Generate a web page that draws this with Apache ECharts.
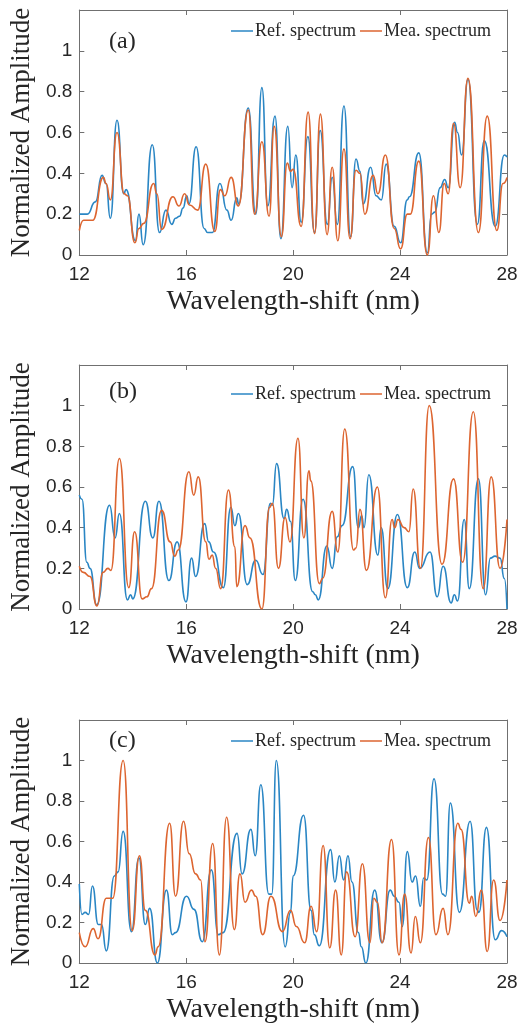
<!DOCTYPE html>
<html><head><meta charset="utf-8">
<script src="https://cdn.jsdelivr.net/npm/echarts@6/dist/echarts.min.js"></script>
<style>html,body{margin:0;padding:0;background:#fff}#c{width:532px;height:1030px}</style>
</head><body><div id="c"></div>
<script>
const xTicks = [12, 16, 20, 24, 28];
const seriesNames = ['Ref. spectrum', 'Mea. spectrum'];
const panelLabels = ['(a)', '(b)', '(c)'];
const xTitle = 'Wavelength-shift (nm)';
const yTitle = 'Normalized Amplitude';

const refA = [[12,0.2],[12.3,0.2],[12.6,0.26],[12.85,0.39],[13.0,0.35],[13.16,0.18],[13.41,0.66],[13.66,0.30],[13.75,0.32],[14.1,0.07],[14.23,0.2],[14.39,0.05],[14.73,0.54],[15.0,0.11],[15.24,0.22],[15.46,0.15],[15.6,0.18],[15.75,0.19],[15.88,0.23],[16.02,0.29],[16.1,0.25],[16.37,0.53],[16.67,0.13],[16.8,0.11],[16.98,0.11],[17.26,0.35],[17.52,0.22],[17.68,0.17],[17.89,0.28],[17.96,0.25],[18.32,0.72],[18.6,0.2],[18.83,0.82],[19.05,0.24],[19.32,0.68],[19.54,0.08],[19.8,0.63],[19.96,0.33],[20.1,0.49],[20.3,0.16],[20.55,0.58],[20.8,0.11],[21.01,0.61],[21.28,0.15],[21.46,0.38],[21.65,0.15],[21.9,0.73],[22.15,0.09],[22.35,0.47],[22.5,0.41],[22.62,0.25],[22.9,0.43],[23.1,0.29],[23.3,0.27],[23.48,0.445],[23.78,0.14],[24.02,0.06],[24.27,0.27],[24.35,0.285],[24.7,0.50],[25.02,0.01],[25.18,0.2],[25.3,0.21],[25.5,0.33],[25.67,0.37],[25.8,0.33],[26.04,0.65],[26.15,0.6],[26.3,0.49],[26.54,0.86],[26.89,0.15],[27.15,0.56],[27.56,0.14],[27.9,0.49],[28,0.48]];
const meaA = [[12,0.12],[12.16,0.17],[12.5,0.17],[12.9,0.38],[13.0,0.35],[13.16,0.27],[13.41,0.6],[13.68,0.30],[13.8,0.29],[14.08,0.06],[14.23,0.13],[14.41,0.155],[14.78,0.35],[14.9,0.30],[15.08,0.125],[15.5,0.285],[15.73,0.24],[15.94,0.30],[16.12,0.245],[16.43,0.22],[16.73,0.445],[17.07,0.115],[17.28,0.32],[17.44,0.29],[17.68,0.38],[17.95,0.24],[18.32,0.71],[18.56,0.2],[18.83,0.555],[19.1,0.19],[19.29,0.63],[19.56,0.09],[19.78,0.45],[19.9,0.41],[20.0,0.42],[20.3,0.14],[20.56,0.70],[20.8,0.105],[21.02,0.69],[21.27,0.1],[21.46,0.43],[21.67,0.07],[21.9,0.52],[22.13,0.08],[22.35,0.415],[22.5,0.40],[22.68,0.2],[22.99,0.39],[23.17,0.30],[23.45,0.49],[23.78,0.13],[24.02,0.03],[24.27,0.2],[24.38,0.2],[24.7,0.46],[25.02,0.0],[25.25,0.29],[25.45,0.11],[25.65,0.35],[25.8,0.30],[26.0,0.645],[26.25,0.33],[26.54,0.865],[26.93,0.11],[27.26,0.68],[27.62,0.12],[27.85,0.35],[28,0.38]];

const refB = [[12,0.56],[12.1,0.54],[12.28,0.23],[12.4,0.2],[12.65,0.02],[13.13,0.51],[13.34,0.35],[13.5,0.47],[13.8,0.045],[13.92,0.07],[14.0,0.05],[14.47,0.53],[14.75,0.35],[14.98,0.53],[15.35,0.14],[15.66,0.33],[15.99,0.035],[16.2,0.25],[16.35,0.16],[16.69,0.42],[16.84,0.33],[17.02,0.28],[17.39,0.105],[17.67,0.5],[17.82,0.41],[17.95,0.47],[18.28,0.12],[18.6,0.24],[18.87,0.17],[19.15,0.52],[19.22,0.51],[19.38,0.715],[19.66,0.445],[19.76,0.49],[19.9,0.43],[20.08,0.14],[20.37,0.54],[20.73,0.085],[20.83,0.07],[20.94,0.045],[21.26,0.31],[21.46,0.2],[21.65,0.355],[21.83,0.41],[22.23,0.7],[22.44,0.4],[22.56,0.46],[22.65,0.4],[22.83,0.66],[23.17,0.265],[23.29,0.4],[23.54,0.1],[23.9,0.465],[24.27,0.105],[24.55,0.28],[24.73,0.2],[25.12,0.28],[25.39,0.06],[25.61,0.21],[25.91,0.03],[26.03,0.07],[26.15,0.04],[26.4,0.44],[26.59,0.1],[26.93,0.64],[27.2,0.07],[27.38,0.25],[27.55,0.26],[27.74,0.25],[27.9,0.15],[28,0.0]];
const meaB = [[12,0.21],[12.15,0.18],[12.4,0.16],[12.66,0.015],[12.89,0.18],[13.07,0.2],[13.18,0.19],[13.5,0.74],[13.85,0.105],[14.07,0.38],[14.35,0.05],[14.53,0.06],[14.7,0.1],[15.08,0.485],[15.4,0.33],[15.57,0.26],[15.7,0.29],[16.1,0.675],[16.28,0.56],[16.45,0.65],[16.73,0.33],[16.85,0.245],[16.97,0.265],[17.1,0.2],[17.29,0.1],[17.58,0.585],[17.82,0.305],[17.89,0.11],[18.2,0.41],[18.38,0.35],[18.83,0.0],[19.12,0.5],[19.22,0.52],[19.45,0.2],[19.7,0.45],[19.88,0.33],[20.18,0.84],[20.4,0.35],[20.59,0.68],[20.66,0.63],[20.98,0.125],[21.1,0.15],[21.46,0.48],[21.67,0.28],[21.93,0.885],[22.26,0.29],[22.35,0.3],[22.5,0.49],[22.74,0.19],[23.15,0.6],[23.45,0.055],[23.7,0.44],[23.8,0.4],[23.92,0.44],[24.15,0.40],[24.33,0.38],[24.49,0.59],[24.76,0.2],[25.09,1.0],[25.57,0.22],[26.0,0.64],[26.34,0.23],[26.74,0.97],[27.11,0.1],[27.41,0.65],[27.74,0.2],[28,0.44]];

const refC = [[12,0.39],[12.1,0.24],[12.22,0.25],[12.35,0.24],[12.49,0.38],[12.71,0.19],[12.83,0.19],[13.01,0.06],[13.31,0.43],[13.45,0.45],[13.64,0.65],[13.95,0.155],[14.23,0.52],[14.47,0.19],[14.63,0.27],[14.92,0.0],[15.26,0.36],[15.48,0.14],[15.6,0.15],[16.01,0.33],[16.29,0.265],[16.6,0.105],[16.94,0.46],[17.2,0.14],[17.38,0.15],[17.9,0.64],[18.09,0.44],[18.42,0.66],[18.58,0.53],[18.79,0.88],[19.09,0.34],[19.2,0.34],[19.37,1.0],[19.7,0.08],[19.9,0.25],[20.0,0.43],[20.39,0.73],[20.67,0.26],[20.79,0.14],[20.98,0.085],[21.4,0.56],[21.56,0.4],[21.73,0.53],[21.89,0.41],[22.05,0.53],[22.2,0.4],[22.44,0.15],[22.55,0.08],[22.72,0.0],[23.05,0.36],[23.32,0.1],[23.63,0.36],[23.78,0.33],[23.96,0.30],[24.08,0.18],[24.27,0.55],[24.45,0.4],[24.58,0.43],[24.76,0.28],[24.88,0.42],[25.0,0.41],[25.27,0.91],[25.59,0.34],[25.7,0.33],[25.88,0.79],[26.22,0.25],[26.62,0.70],[26.89,0.26],[26.95,0.25],[27.23,0.67],[27.56,0.115],[27.8,0.16],[28,0.13]];
const meaC = [[12,0.15],[12.22,0.08],[12.52,0.17],[12.7,0.12],[13.01,0.32],[13.25,0.32],[13.64,1.0],[13.98,0.16],[14.25,0.53],[14.47,0.26],[14.83,0.04],[14.95,0.08],[15.38,0.69],[15.6,0.33],[15.9,0.70],[16.11,0.54],[16.35,0.44],[16.54,0.41],[16.7,0.105],[16.99,0.59],[17.24,0.04],[17.51,0.72],[17.8,0.165],[18.01,0.44],[18.2,0.3],[18.44,0.36],[18.6,0.33],[18.86,0.14],[19.17,0.33],[19.6,0.155],[19.9,0.26],[20.12,0.18],[20.43,0.1],[20.67,0.28],[20.88,0.155],[21.12,0.58],[21.37,0.075],[21.59,0.36],[21.8,0.04],[22.0,0.45],[22.32,0.13],[22.59,0.49],[22.87,0.1],[23.02,0.32],[23.15,0.3],[23.33,0.1],[23.68,0.61],[23.96,0.04],[24.17,0.34],[24.41,0.05],[24.57,0.23],[24.76,0.1],[25.06,0.62],[25.34,0.14],[25.61,0.27],[25.79,0.14],[26.16,0.69],[26.28,0.66],[26.59,0.295],[26.68,0.33],[26.83,0.23],[27.04,0.36],[27.26,0.057],[27.5,0.41],[27.74,0.21],[28,0.41]];

const panels = [[refA, meaA], [refB, meaB], [refC, meaC]];

const BLUE = '#2a86c4', ORANGE = '#dd6530';
const AXIS = '#707070', TXT = '#262626';
const SANS = 'Liberation Sans, Arial, sans-serif';
const SERIF = 'Liberation Serif, Times New Roman, serif';

const layout = [
  {top: 10, height: 245, legendTop: 22, labelY: 43},
  {top: 365, height: 244, legendTop: 385, labelY: 393},
  {top: 720, height: 243, legendTop: 732, labelY: 742}
];
const L = 75, W = 432;

const grid = [], xAxis = [], yAxis = [], series = [], legend = [], graphic = [];
layout.forEach((p, i) => {
  grid.push({left: L, top: p.top, width: W, height: p.height, containLabel: false});
  const xBase = {type: 'value', gridIndex: i, min: xTicks[0], max: xTicks[xTicks.length - 1], interval: 4,
    splitLine: {show: false}, axisLine: {show: true, onZero: false, lineStyle: {color: AXIS, width: 1}},
    axisTick: {show: true, inside: true, length: 5, lineStyle: {color: AXIS}}};
  xAxis.push(Object.assign({}, xBase, {position: 'bottom', name: xTitle, nameLocation: 'middle', nameGap: 33,
    nameTextStyle: {fontFamily: SERIF, fontSize: 28, color: TXT},
    axisLabel: {show: true, margin: 10, fontFamily: SANS, fontSize: 19, color: TXT}}));
  xAxis.push(Object.assign({}, xBase, {position: 'top', axisLabel: {show: false}}));
  const yBase = {type: 'value', gridIndex: i, min: 0, max: 1.2, interval: 0.2,
    splitLine: {show: false}, axisLine: {show: true, onZero: false, lineStyle: {color: AXIS, width: 1}},
    axisTick: {show: true, inside: true, length: 5, lineStyle: {color: AXIS}}};
  yAxis.push(Object.assign({}, yBase, {position: 'left', name: yTitle, nameLocation: 'middle', nameGap: 40,
    nameTextStyle: {fontFamily: SERIF, fontSize: 27, color: TXT},
    axisLabel: {show: true, margin: 7, fontFamily: SANS, fontSize: 19, color: TXT,
      formatter: v => (v > 1.1 ? '' : String(+v.toFixed(1)))}}));
  yAxis.push(Object.assign({}, yBase, {position: 'right', axisLabel: {show: false}}));
  const colors = [BLUE, ORANGE];
  panels[i].forEach((d, k) => {
    series.push({type: 'line', name: seriesNames[k], xAxisIndex: 2 * i, yAxisIndex: 2 * i, data: d,
      symbol: 'none', smooth: 0.55, smoothMonotone: 'x', color: colors[k],
      lineStyle: {width: 1.6, color: colors[k]}, z: 2 + k, animation: false});
  });
  legend.push({data: seriesNames, left: 231, top: p.legendTop, icon: 'rect', itemWidth: 22, itemHeight: 1.5,
    itemGap: 4, padding: 0, textStyle: {fontFamily: SERIF, fontSize: 18, color: TXT, padding: [0, 0, 0, -3]},
    selectedMode: false});
  graphic.push({type: 'text', left: 109, top: p.labelY - 13,
    style: {text: panelLabels[i], font: '24px ' + SERIF, fill: TXT}});
});

const chart = echarts.init(document.getElementById('c'), null, {renderer: 'canvas'});
chart.setOption({animation: false, backgroundColor: '#fff', grid, xAxis, yAxis, series, legend, graphic});
</script></body></html>
